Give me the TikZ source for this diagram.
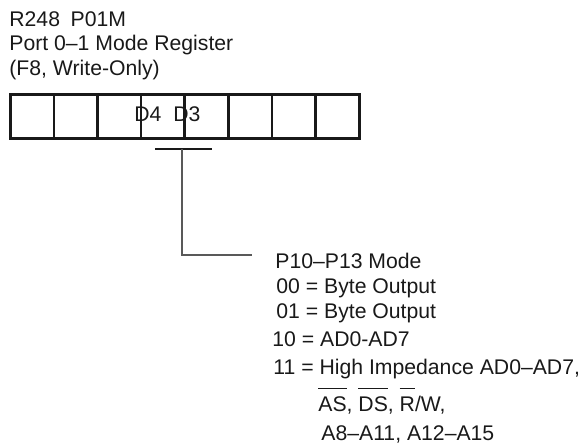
\documentclass[tikz,border=0pt]{standalone}
\usepackage{fontspec}
\setmainfont{Liberation Sans}
\newcommand\ovl[1]{\setbox0\hbox{#1}\rlap{\raisebox{10.9pt}{\rule{\wd0}{0.75pt}}}\box0}
\begin{document}
\begin{tikzpicture}[x=0.5pt,y=-0.5pt,
  txt/.style={anchor=base west,inner sep=0pt,text=black!90,font=\fontsize{10.6}{12.7}\selectfont},
  cell/.style={draw=black!90,line width=1.3pt,minimum width=21.8pt,minimum height=22pt,inner sep=0pt,anchor=north west},
  tbar/.style={draw=black!90,line width=0.9pt},
  lead/.style={draw=black!65,line width=0.55pt}]
\useasboundingbox (0,0) rectangle (582,447);
\node[txt] (t1) at (9,26) {R248\hspace{0.5em}P01M};
\node[txt] (t2) at (9,50) {Port 0–1 Mode Register};
\node[txt] (t3) at (9,75) {(F8, Write-Only)};
\foreach \i in {0,...,7} {
  \node[cell] (c\i) at ({9+\i*43.625},93) {};
}
\node[txt] (d4) at (134,121) {D4};
\node[txt] (d3) at (173,121) {D3};
\coordinate (bl) at (155,149);
\coordinate (br) at (212,149);
\coordinate (bm) at (182,149);
\coordinate (corner) at (182,255);
\coordinate (lend) at (252,255);
\draw[tbar] (bl) -- (br);
\draw[lead] (bm) -- (corner) -- (lend);
\node[txt] (m0) at (275,268) {P10–P13 Mode};
\node[txt] (m1) at (276,293) {00 = Byte Output};
\node[txt] (m2) at (276,318) {01 = Byte Output};
\node[txt] (m3) at (272,346) {10 = AD0-AD7};
\node[txt] (m4) at (273,374) {11 = High Impedance AD0–AD7,};
\node[txt] (m5) at (318,411) {\ovl{AS}, \ovl{DS}, \ovl{R}/W,};
\node[txt] (m6) at (321,440) {A8–A11, A12–A15};
\end{tikzpicture}
\end{document}
